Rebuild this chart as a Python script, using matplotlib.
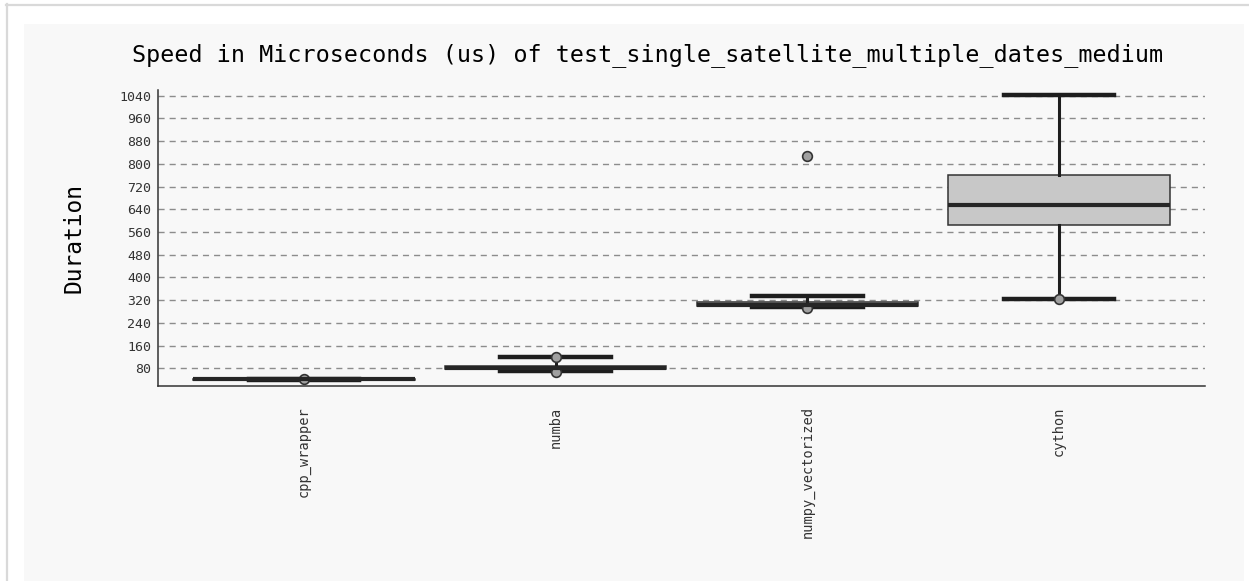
import matplotlib.pyplot as plt
from matplotlib.patches import Rectangle
from matplotlib.lines import Line2D

# data (microseconds)
names = ['cpp_wrapper', 'numba', 'numpy_vectorized', 'cython']
medians = [41, 82, 304, 656]
q1s = [39, 77, 298, 583]
q3s = [43, 88, 312, 762]
whis_lo = [40, 70, 295, 324]
whis_hi = [42, 119, 334, 1042]
fliers = [[41], [121, 68], [292, 828], [324]]
yticks = list(range(80, 1041, 80))

W, H = 1249, 581
fig = plt.figure(figsize=(W / 100, H / 100), dpi=100, facecolor='white')

# page frame + light background like the screenshot
fig.patches.append(Rectangle((24 / W, 0), (1244 - 24) / W, (H - 24) / H,
                             transform=fig.transFigure, facecolor='#f8f8f8',
                             edgecolor='none', zorder=-10))
fig.lines.append(Line2D([6 / W, 1], [1 - 4.5 / H, 1 - 4.5 / H], transform=fig.transFigure,
                        color='#d9d9d9', lw=1.6))
fig.lines.append(Line2D([6.5 / W, 6.5 / W], [0, 1 - 4 / H], transform=fig.transFigure,
                        color='#d9d9d9', lw=1.6))

ax = fig.add_axes([158 / W, (H - 385.5) / H, 1047 / W, 295.5 / H])
ax.patch.set_visible(False)

stats = []
for i in range(len(names)):
    stats.append(dict(label=names[i], med=medians[i], q1=q1s[i], q3=q3s[i],
                      whislo=whis_lo[i], whishi=whis_hi[i], fliers=fliers[i]))

ax.bxp(stats, positions=[1, 2, 3, 4], widths=0.88, patch_artist=True,
       boxprops=dict(facecolor='#c8c8c8', edgecolor='#333333', linewidth=1.1),
       medianprops=dict(color='#262626', linewidth=3),
       whiskerprops=dict(color='#1e1e1e', linewidth=2.2),
       capprops=dict(color='#1e1e1e', linewidth=3.2),
       flierprops=dict(marker='o', markersize=7, markerfacecolor='#a0a0a0',
                       markeredgecolor='#333333', markeredgewidth=1.2),
       zorder=3)

ax.set_xlim(0.42, 4.58)
ax.set_ylim(19.4, 1060)
ax.set_yticks(yticks)
ax.set_xticks([1, 2, 3, 4])
ax.set_xticklabels(names, rotation=90, family='DejaVu Sans Mono', fontsize=9.8, color='#333333')
ax.set_yticklabels([str(t) for t in yticks], family='DejaVu Sans Mono', fontsize=9.5, color='#333333')
ax.tick_params(axis='y', length=0, pad=5)
ax.tick_params(axis='x', length=0, pad=15)

ax.yaxis.grid(True, color='#8c8c8c', linewidth=1.0, linestyle=(0, (4.4, 3.6)), zorder=0)
ax.set_axisbelow(True)

for s in ['top', 'right']:
    ax.spines[s].set_visible(False)
for s in ['left', 'bottom']:
    ax.spines[s].set_color('#333333')
    ax.spines[s].set_linewidth(1.1)

ax.set_ylabel('Duration', family='DejaVu Sans Mono', fontsize=16.5, va='center')
ax.yaxis.set_label_coords((74 - 158) / 1047, 0.5)

fig.text(648 / W, (H - 61) / H, 'Speed in Microseconds (us) of test_single_satellite_multiple_dates_medium',
         ha='center', va='baseline', family='DejaVu Sans Mono', fontsize=16.8, color='black')

fig.savefig('out.png', dpi=100, facecolor='white')
